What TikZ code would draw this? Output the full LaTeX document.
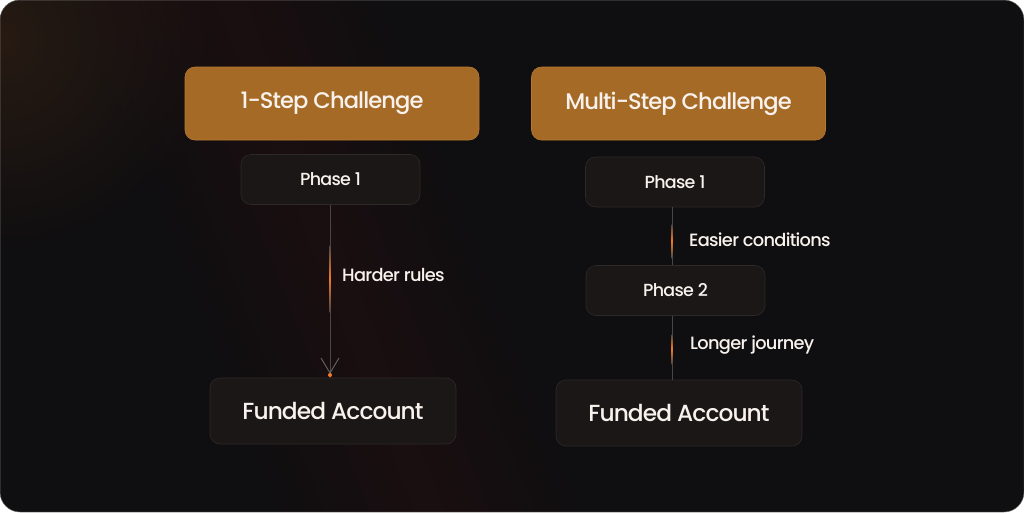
\documentclass[tikz,border=0pt]{standalone}
\usepackage{fontspec}
\setmainfont{Poppins}[UprightFont=* Medium, LetterSpace=-4]
\usetikzlibrary{arrows.meta}
\definecolor{bgdark}{HTML}{0F0E10}
\definecolor{bgglow}{HTML}{3A2414}
\definecolor{boxorange}{HTML}{A66A27}
\definecolor{edgeorange}{HTML}{B67934}
\definecolor{boxdark}{HTML}{1A1716}
\definecolor{edgedark}{HTML}{2E2A29}
\definecolor{linegray}{HTML}{4A4646}
\definecolor{barbgray}{HTML}{6A6565}
\definecolor{accent}{HTML}{F07A2A}
\definecolor{txt}{HTML}{F8F1EC}

\tikzset{
  headbox/.style={draw=edgeorange, line width=0.6pt, fill=boxorange, rounded corners=10pt,
    minimum width=294pt, minimum height=73pt, text=txt, font=\fontsize{22.6}{26}\selectfont},
  phasebox/.style={draw=edgedark, line width=0.6pt, fill=boxdark, rounded corners=10pt,
    minimum width=179pt, minimum height=50pt, text=txt, font=\fontsize{17.5}{20}\selectfont},
  fundbox/.style={phasebox, minimum width=246pt, minimum height=66pt, font=\fontsize{23.3}{28}\selectfont},
  lbl/.style={anchor=west, text=txt, inner sep=0pt, font=\fontsize{17.8}{20}\selectfont},
  conn/.style={draw=linegray, line width=0.8pt},
  glint/.style={top color=linegray, bottom color=linegray, middle color=accent},
}

\begin{document}
\begin{tikzpicture}[x=1pt,y=-1pt]
    \useasboundingbox (0,0) rectangle (1024,512);

    % background card
    \begin{scope}
        \clip[rounded corners=20pt] (0,0) rectangle (1024,512);
        \fill[bgdark] (0,0) rectangle (1024,512);
        \shade[inner color=bgglow!55!bgdark, outer color=bgdark] (0,40) circle (210pt);
        \foreach \w in {15,30,...,150}
            \fill[bgglow, opacity=0.035] (230-\w,0) -- (230+\w,0) -- (430+\w,512) -- (430-\w,512) -- cycle;
        \foreach \w in {20,40,...,160}
            \fill[bgglow, opacity=0.02] (620-\w,0) -- (620+\w,0) -- (700+\w,512) -- (700-\w,512) -- cycle;
    \end{scope}
    \draw[rounded corners=20pt, draw=edgedark!70, line width=0.5pt] (0,0) rectangle (1024,512);

    % left column
    \node[headbox] (oneHead) at (332,103.5) {1-Step Challenge};
    \node[phasebox] (onePhaseA) at (330.5,179.5) {Phase 1};
    \node[fundbox] (oneFund) at (333,411) {Funded Account};

    % right column
    \node[headbox] (multiHead) at (678.5,103.5) {Multi-Step Challenge};
    \node[phasebox] (multiPhaseA) at (675,182) {Phase 1};
    \node[phasebox] (multiPhaseB) at (675.5,290.5) {Phase 2};
    \node[fundbox] (multiFund) at (679,413) {Funded Account};

    % connectors
    \draw[conn] (onePhaseA.south -| 330,0) -- (oneFund.north -| 330,0);
    \draw[barbgray, line width=0.9pt] (321,358) -- (330,373) -- (339,358);
    \draw[conn] (multiPhaseA.south -| 672,0) -- (multiPhaseB.north -| 672,0);
    \draw[conn] (multiPhaseB.south -| 672,0) -- (multiFund.north -| 672,0);

    % orange glints on the lines
    \shade[glint] (329.5,245) rectangle (330.6,312);
    \shade[glint] (671.5,224) rectangle (672.6,258);
    \shade[glint] (671.5,334) rectangle (672.6,364);
    \fill[accent] (330,375) circle (2pt);

    % labels
    \node[lbl] (hardLbl) at (342,275) {Harder rules};
    \node[lbl] (easyLbl) at (689,240) {Easier conditions};
    \node[lbl] (longLbl) at (690,345) {Longer journey};
\end{tikzpicture}
\end{document}
